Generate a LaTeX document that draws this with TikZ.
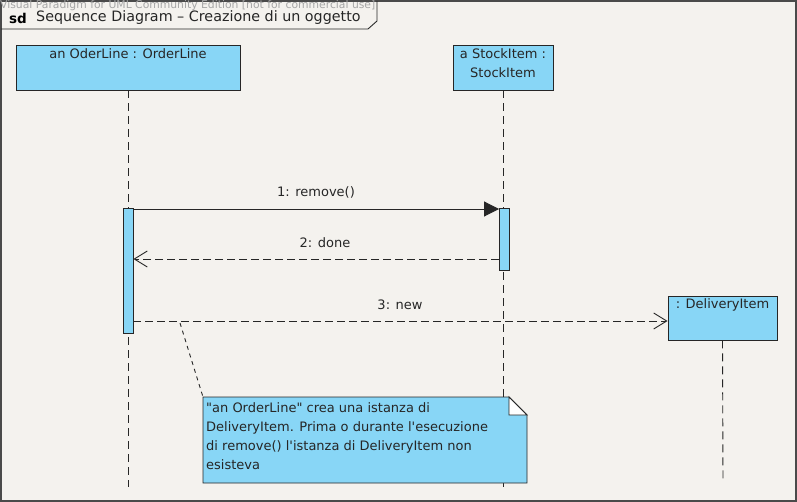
\documentclass[tikz,border=0pt]{standalone}
\usepackage{fontspec}
\setmainfont{DejaVu Sans}[Ligatures=TeXOff]
\usetikzlibrary{arrows.meta}
\definecolor{bgc}{HTML}{F4F2EE}
\definecolor{boxc}{HTML}{88D6F6}
\definecolor{framec}{HTML}{4A4A4A}
\begin{document}
\begin{tikzpicture}[x=1pt,y=-1pt,
  txt/.style={font=\fontsize{13}{15}\selectfont, inner sep=0pt, text=black!85},
  objbox/.style={draw=black!85, fill=boxc, line width=0.9pt, inner sep=0pt},
  lifeline/.style={draw=black!85, line width=0.9pt, dash pattern=on 8pt off 5pt},
  actbox/.style={draw=black!85, fill=boxc, line width=0.9pt, inner sep=0pt, minimum width=10pt},
  syncmsg/.style={draw=black!85, line width=0.9pt, -{Triangle[length=15pt,width=15pt]}},
  retmsg/.style={draw=black!85, line width=0.9pt, dash pattern=on 8pt off 4pt, -{Straight Barb[length=13pt,width=16pt,line width=0.9pt]}},
  notelink/.style={draw=black!85, line width=0.9pt, dash pattern=on 4pt off 4pt}
]
\useasboundingbox (0,0) rectangle (797,502);
\fill[bgc] (0,0) rectangle (797,502);
% frame
\draw[framec, line width=1.8pt] (1,1) rectangle (796,501);
% watermark
\node[font=\fontsize{10.8}{12}\selectfont, text=black!35, anchor=west, inner sep=0pt] (wm) at (0,6) {Visual Paradigm for UML Community Edition [not for commercial use]};
% title pentagon
\draw[black!85, line width=0.9pt] (1,29) -- (368,29) -- (377,21) -- (377,1);
\node[font=\fontsize{13.5}{15}\selectfont\bfseries, anchor=west, inner sep=0pt] (sd) at (9,18) {sd};
\node[font=\fontsize{14.3}{16}\selectfont, anchor=west, inner sep=0pt, text=black!85] (title) at (36,18) {Sequence Diagram – Creazione di un oggetto};

% lifeline boxes
\node[objbox, minimum width=224pt, minimum height=45pt] (ol) at (128,67.5) {};
\node[txt] (oltxt) at (128,54) {an OderLine : OrderLine};
\node[objbox, minimum width=100pt, minimum height=45pt] (si) at (503,67.5) {};
\node[txt, align=center, font=\fontsize{13}{19}\selectfont] (sitxt) at (503,63) {a StockItem :\\StockItem};
\node[objbox, minimum width=109pt, minimum height=44pt] (di) at (722.5,318) {};
\node[txt] (ditxt) at (722.5,305) {: DeliveryItem};

% lifelines
\coordinate (olend) at (128,487);
\coordinate (siend) at (503,487);
\coordinate (diend) at (723,483);
\draw[lifeline] (ol.south) -- (olend);
\draw[lifeline] (si.south) -- (siend);
\draw[lifeline] (di.south) -- (diend);

% activations
\node[actbox, minimum height=125pt] (olact) at (128,270.5) {};
\node[actbox, minimum height=62pt] (siact) at (504.5,239) {};

% messages
\draw[syncmsg] (olact.east |- 0,209) -- (siact.west |- 0,209);
\node[txt] (m1) at (316,192) {1: remove()};
\draw[retmsg] (siact.west |- 0,259) -- (olact.east |- 0,259);
\node[txt] (m2) at (325,243) {2: done};
\draw[retmsg] (olact.east |- 0,321) -- (di.west |- 0,321);
\node[txt] (m3) at (400,305) {3: new};

% note
\coordinate (nA) at (203,397);
\coordinate (nB) at (509,397);
\coordinate (nC) at (527,415);
\coordinate (nD) at (527,483);
\coordinate (nE) at (203,483);
\filldraw[fill=boxc, draw=black!85, line width=0.9pt] (nA) -- (nB) -- (nC) -- (nD) -- (nE) -- cycle;
\filldraw[fill=white, draw=black!85, line width=0.9pt] (nB) -- (nB |- nC) -- (nC) -- cycle;
\node[txt, anchor=north west, align=left, font=\fontsize{13}{19}\selectfont] (note) at (206,402)
  {"an OrderLine" crea una istanza di\\DeliveryItem. Prima o durante l'esecuzione\\di remove() l'istanza di DeliveryItem non\\esisteva};
\coordinate (linkstart) at (180,323);
\draw[notelink] (linkstart) -- (nA);
\end{tikzpicture}
\end{document}
